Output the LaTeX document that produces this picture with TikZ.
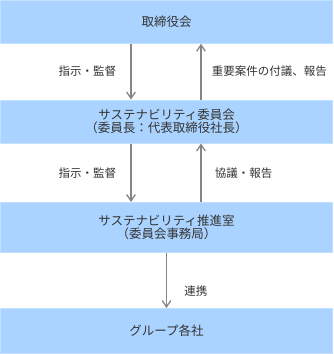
\documentclass[tikz,border=0pt]{standalone}
\usepackage{fontspec}
\setmainfont{Noto Sans CJK JP}
\usetikzlibrary{arrows.meta}
\definecolor{boxfill}{HTML}{AAD4FF}
\definecolor{boxedge}{HTML}{C2E0FF}
\definecolor{arrowgray}{HTML}{858585}
\definecolor{textgray}{HTML}{333333}

\begin{document}
\begin{tikzpicture}[x=1pt, y=-1pt, every node/.style={font=\fontsize{11.5}{13}\selectfont, text=textgray},
	orgbox/.style={fill=boxfill, draw=boxedge, line width=1pt, minimum width=332pt, inner sep=0pt, align=center, font=\fontsize{12.5}{13.5}\selectfont},
	flow/.style={draw=arrowgray, line width=1.3pt, -{Straight Barb[length=2.2mm, width=3mm]}},
	>={Straight Barb[length=2mm]}]
	\useasboundingbox (0,0) rectangle (333,354);
	\node[orgbox, minimum height=43pt] (board) at (166.5,21.75) {取締役会};
	\node[orgbox, minimum height=43pt] (committee) at (166.5,121.5) {サステナビリティ委員会\\（委員長：代表取締役社長）};
	\node[orgbox, minimum height=50pt] (office) at (166.5,227.5) {サステナビリティ推進室\\（委員会事務局）};
	\node[orgbox, minimum height=45pt] (group) at (166.5,331) {グループ各社};
	\draw[flow] ([xshift=-35.5pt]board.south) -- node[left=11pt] {指示・監督} ([xshift=-35.5pt]committee.north);
	\draw[flow] ([xshift=34.5pt]committee.north) -- node[right=7pt] {重要案件の付議、報告} ([xshift=34.5pt]board.south);
	\draw[flow] ([xshift=-35.5pt]committee.south) -- node[left=11pt] {指示・監督} ([xshift=-35.5pt]office.north);
	\draw[flow] ([xshift=34.5pt]office.north) -- node[right=10pt] {協議・報告} ([xshift=34.5pt]committee.south);
	\draw[flow] (office.south) -- node[pos=0.7, right=14pt] {連携} (group.north);
\end{tikzpicture}
\end{document}
